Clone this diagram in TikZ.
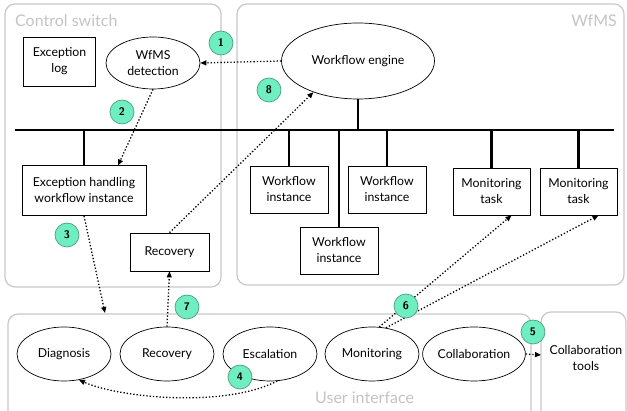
\documentclass[tikz,border=0pt]{standalone}
\usepackage{fontspec}
\setmainfont{Lato}
\usetikzlibrary{arrows.meta,shapes.geometric}
\definecolor{mint}{HTML}{6FEEC2}
\definecolor{mintdark}{HTML}{4E9E82}
\definecolor{grp}{HTML}{C8C8C8}
\definecolor{grptext}{HTML}{C4C4C4}
\begin{document}
\begin{tikzpicture}[x=1pt,y=-1pt,
  font=\fontsize{12.3}{16}\selectfont,
  group/.style={draw=grp,line width=1.2pt,rounded corners=10pt},
  grouplabel/.style={text=grptext,font=\fontsize{16}{18}\selectfont,inner sep=0pt},
  box/.style={draw,line width=0.7pt,align=center,inner sep=0pt},
  ell/.style={draw,ellipse,line width=0.7pt,align=center,inner sep=0pt,minimum width=94pt,minimum height=54pt},
  num/.style={circle,draw=mintdark,fill=mint,line width=0.7pt,minimum size=24pt,inner sep=0pt,font=\fontsize{11}{12}\selectfont\sffamily\bfseries},
  flow/.style={dotted,line width=1.3pt,-{Triangle[length=6pt,width=5pt]}},
  bus/.style={line width=2.3pt}]
\useasboundingbox (0,0) rectangle (627,411);
\begin{scope}
\clip (0,0) rectangle (627,411);
% groups
\draw[group] (5,4) rectangle (221,287);
\draw[group] (237,4) rectangle (624,285);
\draw[group] (8,314) rectangle (531,425);
\draw[group] (541,312) rectangle (626,425);
\end{scope}
\node[grouplabel,anchor=west] (lcs) at (15,21) {Control switch};
\node[grouplabel,anchor=east] (lwf) at (617,21) {WfMS};
\node[grouplabel,anchor=west] (lui) at (315,398) {User interface};

% control switch contents
\node[box,minimum width=72pt,minimum height=49pt] (elog) at (59.5,61.5) {Exception\\log};
\node[ell,minimum width=94pt,minimum height=52pt] (det) at (153,63) {WfMS\\detection};
\node[ell,minimum width=153pt,minimum height=76pt] (eng) at (358,61) {Workflow engine};

% bus
\coordinate (busL) at (15,130);
\coordinate (busR) at (614,130);
\draw[bus] (busL) -- (busR);
\draw[bus] (eng.south) -- (eng.south |- busL);

\node[box,minimum width=124pt,minimum height=50pt] (ehw) at (84,190.5) {Exception handling\\workflow instance};
\node[box,minimum width=79pt,minimum height=38pt] (rbox) at (169.5,252) {Recovery};
\node[box,minimum width=78pt,minimum height=47pt] (wi1) at (289,189.5) {Workflow\\instance};
\node[box,minimum width=78pt,minimum height=47pt] (wi2) at (339,250.5) {Workflow\\instance};
\node[box,minimum width=78pt,minimum height=47pt] (wi3) at (387,189.5) {Workflow\\instance};
\node[box,minimum width=77pt,minimum height=47pt] (mt1) at (491.5,191.5) {Monitoring\\task};
\node[box,minimum width=77pt,minimum height=47pt] (mt2) at (578.5,191.5) {Monitoring\\task};

\foreach \n in {ehw,wi1,wi2,wi3,mt1,mt2}
  \draw[bus] (\n.north) -- (\n.north |- busL);

% user interface
\node[ell] (diag) at (64,354) {Diagnosis};
\node[ell] (rec) at (167,354) {Recovery};
\node[ell] (esc) at (270,354) {Escalation};
\node[ell] (mon) at (372,354) {Monitoring};
\node[ell] (col) at (474,354) {Collaboration};
\node[align=center,inner sep=0pt] (ctools) at (586,358) {Collaboration\\tools};
\coordinate (ctin) at (541,355);

% flows
\draw[flow] (eng.west) -- (det.east);
\draw[flow] (det.south) -- (118,165.5);
\draw[flow] (84,216) -- (105,313);
\draw[flow] (esc.-75) .. controls (225,408) and (120,398) .. (diag.-60);
\draw[flow] (col.east) -- (ctin);
\draw[flow] (mon.75) -- (mt1.-50);
\draw[flow] (mon.62) -- (mt2.-50);
\draw[flow] (rec.north) -- (rbox.south);
\draw[flow] (rbox.north) -- (eng.-145);

% numbers
\node[num] (n1) at (221,43) {1};
\node[num] (n2) at (122,112) {2};
\node[num] (n3) at (67,235) {3};
\node[num] (n4) at (240,377) {4};
\node[num] (n5) at (533,332) {5};
\node[num] (n6) at (406,306) {6};
\node[num] (n7) at (187,307) {7};
\node[num] (n8) at (269,90) {8};
\end{tikzpicture}
\end{document}
